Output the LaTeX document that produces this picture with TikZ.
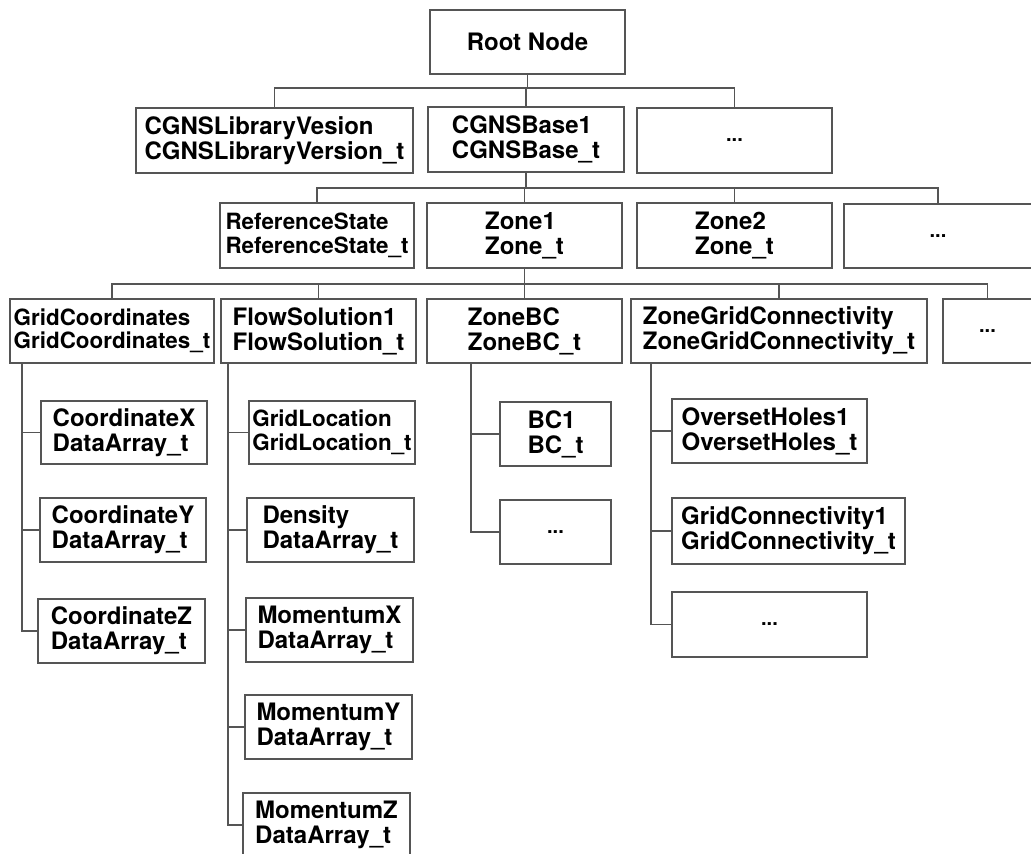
\documentclass[tikz,border=0pt]{standalone}
\usepackage{fontspec}
\setmainfont{TeX Gyre Heros}
\definecolor{linegray}{HTML}{555555}
\tikzset{
  box/.style={draw=linegray, line width=1.8pt, inner sep=0pt, align=left,
    font=\fontsize{24}{25}\selectfont\bfseries, text=black},
  smallbox/.style={box, font=\fontsize{22.4}{23.5}\selectfont\bfseries},
  dotbox/.style={box, font=\fontsize{20}{20}\selectfont\bfseries},
  conn/.style={draw=linegray, line width=1.5pt}
}
\begin{document}
\begin{tikzpicture}[x=1pt,y=-1pt]
\useasboundingbox (0,0) rectangle (1031,854);
% level 0
\node[box, minimum width=195pt, minimum height=64pt] (root) at (527.5,42) {Root Node};
% level 1
\node[box, minimum width=277pt, minimum height=65pt] (lib) at (274.5,140.5) {CGNSLibraryVesion\\CGNSLibraryVersion\_t};
\node[box, minimum width=196pt, minimum height=65pt] (base) at (526,139.5) {CGNSBase1\\CGNSBase\_t};
\node[dotbox, minimum width=195pt, minimum height=65pt] (dotsA) at (734.5,140.5) {...};
% level 2
\node[smallbox, minimum width=194pt, minimum height=65pt] (ref) at (317,235.5) {ReferenceState\\ReferenceState\_t};
\node[box, minimum width=195pt, minimum height=65pt] (zoneA) at (524.5,235.5) {Zone1\\Zone\_t};
\node[box, minimum width=195pt, minimum height=65pt] (zoneB) at (734.5,235.5) {Zone2\\Zone\_t};
\node[dotbox, minimum width=188pt, minimum height=64pt] (dotsB) at (938,236) {...};
% level 3
\node[smallbox, minimum width=204pt, minimum height=64pt] (gc) at (112,331) {GridCoordinates\\GridCoordinates\_t};
\node[box, minimum width=195pt, minimum height=64pt] (fs) at (318.5,331) {FlowSolution1\\FlowSolution\_t};
\node[box, minimum width=195pt, minimum height=64pt] (zbc) at (524.5,331) {ZoneBC\\ZoneBC\_t};
\node[box, minimum width=296pt, minimum height=64pt] (zgc) at (779,331) {ZoneGridConnectivity\\ZoneGridConnectivity\_t};
\node[dotbox, minimum width=89pt, minimum height=64pt] (dotsC) at (987.5,331) {...};
% GridCoordinates children
\node[box, minimum width=166pt, minimum height=63pt] (cx) at (124,432.5) {CoordinateX\\DataArray\_t};
\node[box, minimum width=166pt, minimum height=64pt] (cy) at (123,530) {CoordinateY\\DataArray\_t};
\node[box, minimum width=167pt, minimum height=64pt] (cz) at (121.5,631) {CoordinateZ\\DataArray\_t};
% FlowSolution children
\node[smallbox, minimum width=166pt, minimum height=63pt] (gl) at (332,432.5) {GridLocation\\GridLocation\_t};
\node[box, minimum width=167pt, minimum height=64pt] (den) at (330.5,530) {Density\\DataArray\_t};
\node[box, minimum width=167pt, minimum height=64pt] (mx) at (329.5,630) {MomentumX\\DataArray\_t};
\node[box, minimum width=167pt, minimum height=64pt] (my) at (328.5,727) {MomentumY\\DataArray\_t};
\node[box, minimum width=167pt, minimum height=64pt] (mz) at (326.5,825) {MomentumZ\\DataArray\_t};
% ZoneBC children
\node[box, minimum width=111pt, minimum height=64pt] (bc) at (555.5,434) {BC1\\BC\_t};
\node[dotbox, minimum width=111pt, minimum height=64pt] (bcd) at (555.5,532) {...};
% ZoneGridConnectivity children
\node[box, minimum width=195pt, minimum height=64pt] (oh) at (769.5,431) {OversetHoles1\\OversetHoles\_t};
\node[box, minimum width=233pt, minimum height=66pt] (gcn) at (788.5,531) {GridConnectivity1\\GridConnectivity\_t};
\node[dotbox, minimum width=195pt, minimum height=65pt] (zgd) at (769.5,624.5) {...};
% bus levels
\coordinate (busA) at (0,88);
\coordinate (busB) at (0,188);
\coordinate (busC) at (0,284);
\draw[conn] (root.south) -- (root.south |- busA);
\foreach \c in {lib,base,dotsA} \draw[conn] (root.south |- busA) -| (\c.north);
\draw[conn] (base.south) -- (base.south |- busB);
\foreach \c in {ref,zoneA,zoneB,dotsB} \draw[conn] (base.south |- busB) -| (\c.north);
\draw[conn] (zoneA.south) -- (zoneA.south |- busC);
\foreach \c in {gc,fs,zbc,zgc,dotsC} \draw[conn] (zoneA.south |- busC) -| (\c.north);
% side trees
\coordinate (gcx) at (22,0);
\coordinate (fsx) at (228,0);
\coordinate (zbcx) at (471,0);
\coordinate (zgcx) at (651,0);
\foreach \c in {cx,cy,cz} \draw[conn] (gc.south -| gcx) |- (\c.west);
\foreach \c in {gl,den,mx,my,mz} \draw[conn] (fs.south -| fsx) |- (\c.west);
\foreach \c in {bc,bcd} \draw[conn] (zbc.south -| zbcx) |- (\c.west);
\foreach \c in {oh,gcn,zgd} \draw[conn] (zgc.south -| zgcx) |- (\c.west);
\end{tikzpicture}
\end{document}
